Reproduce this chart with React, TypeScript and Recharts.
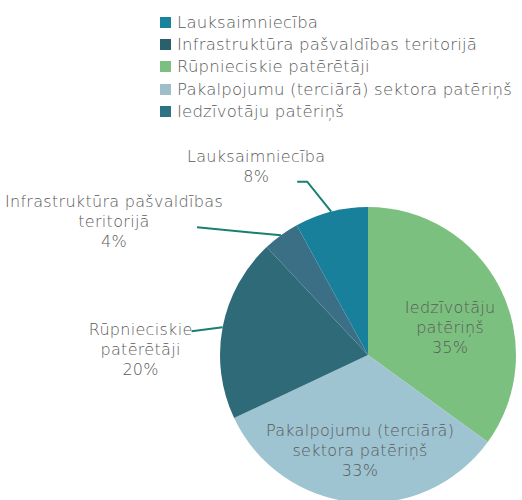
import { PieChart, Pie, Cell, Legend } from "recharts";

// slices go clockwise from 12 o'clock
const sectors = [
  "Iedzīvotāju patēriņš",
  "Pakalpojumu (terciārā) sektora patēriņš",
  "Rūpnieciskie patērētāji",
  "Infrastruktūra pašvaldības teritorijā",
  "Lauksaimniecība",
];
const shares = [35, 33, 20, 4, 8];
const labelText = [
  ["Iedzīvotāju", "patēriņš"],
  ["Pakalpojumu (terciārā)", "sektora patēriņš"],
  ["Rūpnieciskie", "patērētāji"],
  ["Infrastruktūra pašvaldības", "teritorijā"],
  ["Lauksaimniecība"],
];
const sliceColors = ["#7cc07f", "#9ec3d1", "#2f6a79", "#3b6f86", "#18809a"];

// legend copied as printed (order and colours differ from the slices)
const legendNames = [
  "Lauksaimniecība",
  "Infrastruktūra pašvaldības teritorijā",
  "Rūpnieciskie patērētāji",
  "Pakalpojumu (terciārā) sektora patēriņš",
  "Iedzīvotāju patēriņš",
];
const legendColors = ["#17849b", "#2a5f6c", "#7dbf80", "#9ebfc9", "#2d7384"];

const data = sectors.map((name, i) => ({ name, value: shares[i] }));

const FONT = "'DejaVu Sans', sans-serif";
const TEXT = "#5a5a5a";
const LEADER = "#17806f";
const RAD = Math.PI / 180;

// label placement: inside = radial factor + nudge, outside = offsets from slice edge
type Place =
  | { kind: "in"; k: number; dx: number; dy: number }
  | { kind: "out"; text: [number, number]; line: [number, number][] };
const places: Place[] = [
  { kind: "in", k: 0.6, dx: 3, dy: 13 },
  { kind: "in", k: 0.64, dx: 1, dy: 1 },
  { kind: "out", text: [-82, 22], line: [[-31, 4]] },
  { kind: "out", text: [-167, -14], line: [[-84, -8]] },
  { kind: "out", text: [-75, -45], line: [[-24, -30], [-34, -30]] },
];

function renderLabel(props: any) {
  const { cx, cy, midAngle, outerRadius, index, value } = props;
  const p = places[index];
  const lines = [...labelText[index], `${value}%`];
  const polar = (r: number) => [
    cx + r * Math.cos(-midAngle * RAD),
    cy + r * Math.sin(-midAngle * RAD),
  ];
  let tx: number, ty: number;
  let leader: string | null = null;
  if (p.kind === "in") {
    const [x, y] = polar(outerRadius * p.k);
    tx = x + p.dx;
    ty = y + p.dy;
  } else {
    const [ex, ey] = polar(outerRadius);
    tx = ex + p.text[0];
    ty = ey + p.text[1];
    leader = [[0, 0], ...p.line].map(([dx, dy]) => `${ex + dx},${ey + dy}`).join(" ");
  }
  const step = 20;
  return (
    <g key={`lbl-${index}`}>
      {leader && <polyline points={leader} fill="none" stroke={LEADER} strokeWidth={2} />}
      <text
        x={tx}
        textAnchor="middle"
        fill={TEXT}
        fontFamily={FONT}
        fontWeight={200}
        fontSize={16}
        letterSpacing={0.3}
      >
        {lines.map((t, i) => (
          <tspan key={i} x={tx} y={ty + (i - (lines.length - 1) / 2) * step} dominantBaseline="central">
            {t}
          </tspan>
        ))}
      </text>
    </g>
  );
}

function LegendBox() {
  return (
    <div style={{ fontFamily: FONT, fontWeight: 200, fontSize: 16.5, letterSpacing: 0.2, color: TEXT }}>
      {legendNames.map((n, i) => (
        <div key={n} style={{ display: "flex", alignItems: "center", height: 22.4 }}>
          <span style={{ width: 11, height: 11, background: legendColors[i], marginRight: 6, flex: "none" }} />
          <span style={{ whiteSpace: "nowrap" }}>{n}</span>
        </div>
      ))}
    </div>
  );
}

export default function App() {
  return (
    <div style={{ position: "absolute", left: 0, top: 0, width: 522, height: 500, background: "#fff" }}>
      <PieChart width={522} height={500} margin={{ top: 0, right: 0, bottom: 0, left: 0 }}>
        <Legend
          content={() => <LegendBox />}
          wrapperStyle={{ position: "absolute", top: 11, left: 160, width: 362 }}
        />
        <Pie
          data={data}
          dataKey="value"
          nameKey="name"
          cx={368}
          cy={355}
          outerRadius={148}
          startAngle={90}
          endAngle={-270}
          stroke="none"
          label={renderLabel}
          labelLine={false}
          isAnimationActive={false}
        >
          {data.map((d, i) => (
            <Cell key={d.name} fill={sliceColors[i]} />
          ))}
        </Pie>
      </PieChart>
    </div>
  );
}
